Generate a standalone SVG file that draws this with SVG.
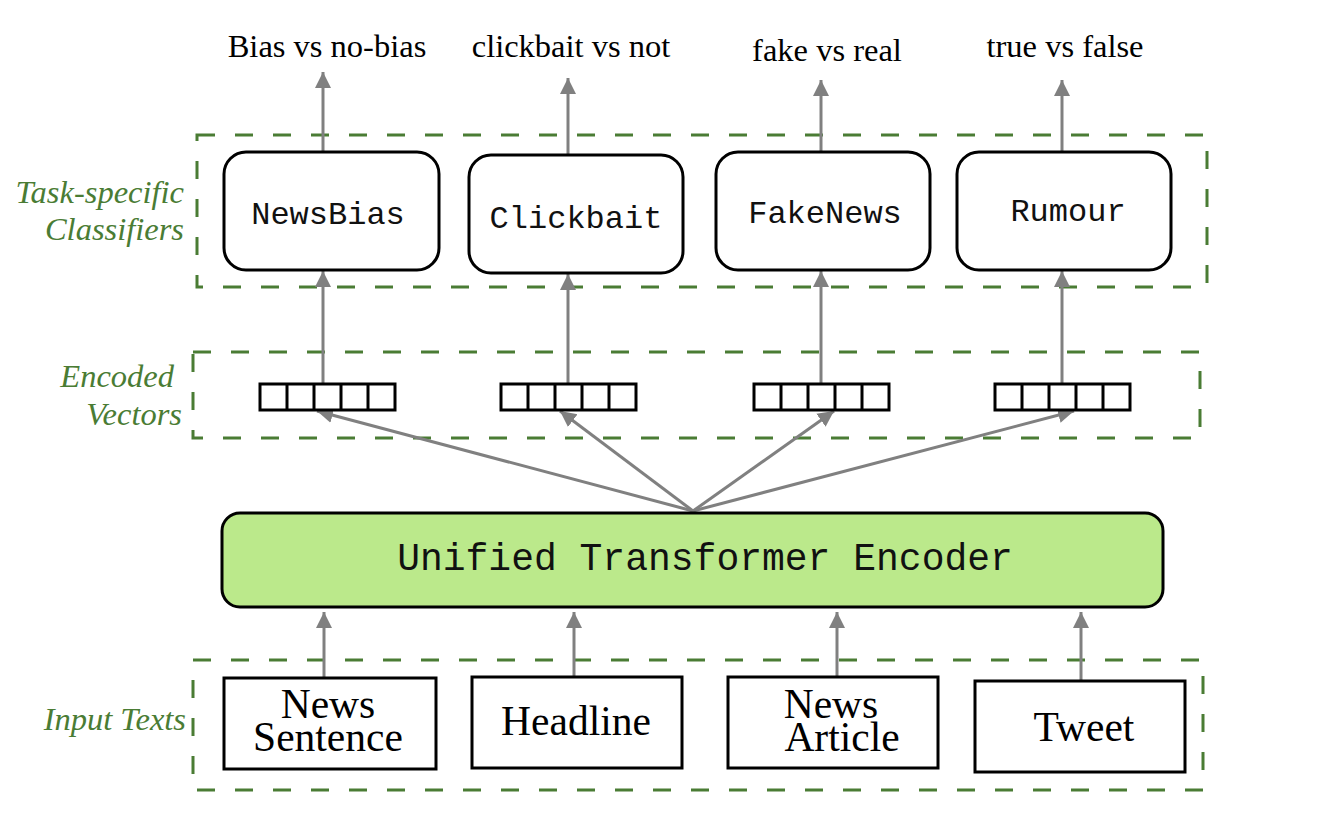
<svg xmlns="http://www.w3.org/2000/svg" width="1340" height="825" viewBox="0 0 1340 825">
<defs>
<style>
.grp{fill:none;stroke:#4a7c34;stroke-width:3;stroke-dasharray:18 20}
.glab{font-family:"Liberation Serif","Times New Roman",serif;font-style:italic;font-size:32.5px;fill:#4a7c34;text-anchor:end}
.cls{fill:#fff;stroke:#000;stroke-width:3}
.mono{font-family:"Courier New","Liberation Mono",monospace;fill:#111;text-anchor:middle}
.out{font-family:"Liberation Serif","Times New Roman",serif;font-size:32.5px;fill:#000;text-anchor:middle}
.inp{font-family:"Liberation Serif","Times New Roman",serif;font-size:41.5px;fill:#000;text-anchor:middle}
.vec{fill:#fff;stroke:#000;stroke-width:3}
.arr{stroke:#808080;stroke-width:3;fill:none;marker-end:url(#ah)}
</style>
<marker id="ah" markerUnits="userSpaceOnUse" markerWidth="16" markerHeight="18" refX="16" refY="8" orient="auto" viewBox="0 0 16 16">
<path d="M0,0 L16,8 L0,16 z" fill="#808080"/>
</marker>
</defs>
<rect width="1340" height="825" fill="#fff"/>

<g id="group-classifiers">
<rect class="grp" x="197" y="135" width="1010" height="152"/>
<text class="glab" x="184" y="203">Task-specific</text>
<text class="glab" x="184" y="240">Classifiers</text>
</g>
<g id="group-vectors">
<rect class="grp" x="193" y="352" width="1007" height="86"/>
<text class="glab" x="174" y="387">Encoded</text>
<text class="glab" x="182" y="425">Vectors</text>
</g>
<g id="group-inputs">
<rect class="grp" x="193" y="660" width="1010" height="130"/>
<text class="glab" x="186" y="730">Input Texts</text>
</g>

<g id="connectors">
<line class="arr" x1="323" y1="152" x2="323" y2="72"/>
<line class="arr" x1="568" y1="155" x2="568" y2="78"/>
<line class="arr" x1="821" y1="152" x2="821" y2="80"/>
<line class="arr" x1="1062" y1="152" x2="1062" y2="80"/>
<line class="arr" x1="323" y1="384" x2="323" y2="271"/>
<line class="arr" x1="568" y1="384" x2="568" y2="274"/>
<line class="arr" x1="821" y1="384" x2="821" y2="271"/>
<line class="arr" x1="1062" y1="384" x2="1062" y2="271"/>
<line class="arr" x1="693" y1="511" x2="317" y2="411"/>
<line class="arr" x1="693" y1="511" x2="560" y2="411"/>
<line class="arr" x1="693" y1="511" x2="834" y2="411"/>
<line class="arr" x1="693" y1="511" x2="1074" y2="411"/>
<line class="arr" x1="324" y1="678" x2="324" y2="612"/>
<line class="arr" x1="574" y1="677" x2="574" y2="612"/>
<line class="arr" x1="837" y1="677" x2="837" y2="612"/>
<line class="arr" x1="1081" y1="681" x2="1081" y2="612"/>
</g>

<g id="out-labels">
<text class="out" x="327" y="57">Bias vs no-bias</text>
<text class="out" x="571" y="57">clickbait vs not</text>
<text class="out" x="827" y="61">fake vs real</text>
<text class="out" x="1065" y="57">true vs false</text>
</g>

<g id="newsbias">
<rect class="cls" x="224" y="152" width="215" height="118" rx="22"/>
<text class="mono" x="328" y="224" font-size="32">NewsBias</text>
</g>
<g id="clickbait">
<rect class="cls" x="469" y="155" width="214" height="118" rx="22"/>
<text class="mono" x="576" y="228" font-size="32">Clickbait</text>
</g>
<g id="fakenews">
<rect class="cls" x="716" y="152" width="214" height="118" rx="22"/>
<text class="mono" x="825" y="223" font-size="32">FakeNews</text>
</g>
<g id="rumour">
<rect class="cls" x="957" y="152" width="214" height="118" rx="22"/>
<text class="mono" x="1068" y="221" font-size="32">Rumour</text>
</g>

<g id="vec1">
<rect class="vec" x="260" y="384" width="135" height="26"/>
<path d="M287,384v26M314,384v26M341,384v26M368,384v26" stroke="#000" stroke-width="3"/>
</g>
<g id="vec2">
<rect class="vec" x="501" y="384" width="135" height="26"/>
<path d="M528,384v26M555,384v26M582,384v26M609,384v26" stroke="#000" stroke-width="3"/>
</g>
<g id="vec3">
<rect class="vec" x="754" y="384" width="135" height="26"/>
<path d="M781,384v26M808,384v26M835,384v26M862,384v26" stroke="#000" stroke-width="3"/>
</g>
<g id="vec4">
<rect class="vec" x="995" y="384" width="135" height="26"/>
<path d="M1022,384v26M1049,384v26M1076,384v26M1103,384v26" stroke="#000" stroke-width="3"/>
</g>

<g id="encoder">
<rect x="222" y="513" width="941" height="94" rx="18" fill="#bbe98b" stroke="#000" stroke-width="3"/>
<text class="mono" x="705" y="570" font-size="38">Unified Transformer Encoder</text>
</g>

<g id="in-sentence">
<rect class="cls" x="224" y="678" width="212" height="91"/>
<text class="inp" x="328" y="718">News</text>
<text class="inp" x="328" y="751">Sentence</text>
</g>
<g id="in-headline">
<rect class="cls" x="472" y="677" width="210" height="91"/>
<text class="inp" x="576" y="735">Headline</text>
</g>
<g id="in-article">
<rect class="cls" x="728" y="677" width="210" height="91"/>
<text class="inp" x="831" y="718">News</text>
<text class="inp" x="842" y="751">Article</text>
</g>
<g id="in-tweet">
<rect class="cls" x="975" y="681" width="210" height="91"/>
<text class="inp" x="1084" y="741">Tweet</text>
</g>
</svg>
